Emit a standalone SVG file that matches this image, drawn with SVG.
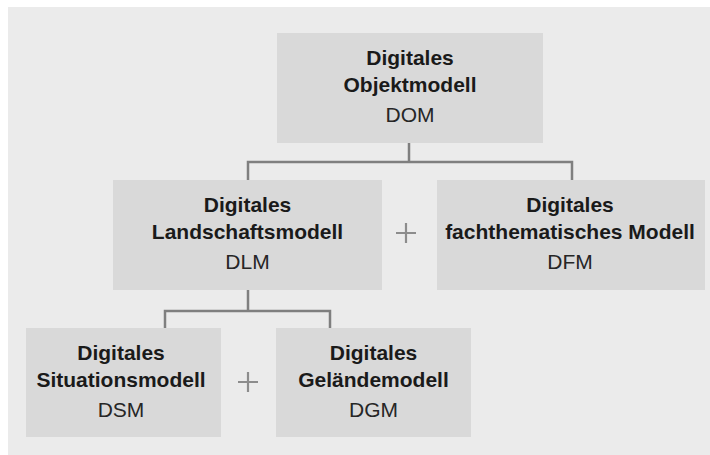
<svg xmlns="http://www.w3.org/2000/svg" width="710" height="455" viewBox="0 0 710 455">
  <style>
    .box { fill: #d9d9d9; }
    .title { font-family: "Liberation Sans", Arial, sans-serif; font-size: 21px; font-weight: bold; fill: #1a1a1a; text-anchor: middle; }
    .abbr { font-family: "Liberation Sans", Arial, sans-serif; font-size: 21px; fill: #262626; text-anchor: middle; }
    .link { fill: none; stroke: #7f7f7f; stroke-width: 2.5; }
    .plus { fill: none; stroke: #8c8c8c; stroke-width: 2.2; }
  </style>
  <rect x="0" y="0" width="710" height="455" fill="#ffffff"/>
  <rect x="8" y="7" width="702" height="448" fill="#ebebeb"/>

  <g id="connectors">
    <path class="link" d="M409,143 V162 M248,180 V162 H572 V180"/>
    <path class="link" d="M248,290 V311 M165,328 V311 H330 V328"/>
  </g>

  <g id="plus-signs">
    <path class="plus" d="M396,233 H416 M406,223 V243"/>
    <path class="plus" d="M238,382 H258 M248,372 V392"/>
  </g>

  <g id="dom">
    <rect class="box" x="277" y="33" width="266" height="110"/>
    <text class="title" x="410" y="64.5">Digitales</text>
    <text class="title" x="410" y="91.5">Objektmodell</text>
    <text class="abbr" x="410" y="121.5">DOM</text>
  </g>

  <g id="dlm">
    <rect class="box" x="113" y="180" width="269" height="110"/>
    <text class="title" x="247.5" y="211.5">Digitales</text>
    <text class="title" x="247.5" y="238.5">Landschaftsmodell</text>
    <text class="abbr" x="247.5" y="268.5">DLM</text>
  </g>

  <g id="dfm">
    <rect class="box" x="437" y="180" width="268" height="110"/>
    <text class="title" x="570" y="211.5">Digitales</text>
    <text class="title" x="570" y="238.5">fachthematisches Modell</text>
    <text class="abbr" x="570" y="268.5">DFM</text>
  </g>

  <g id="dsm">
    <rect class="box" x="26" y="328" width="195" height="109"/>
    <text class="title" x="121" y="360">Digitales</text>
    <text class="title" x="121" y="386.5">Situationsmodell</text>
    <text class="abbr" x="121" y="416.5">DSM</text>
  </g>

  <g id="dgm">
    <rect class="box" x="276" y="328" width="195" height="109"/>
    <text class="title" x="373.5" y="360">Digitales</text>
    <text class="title" x="373.5" y="386.5">Geländemodell</text>
    <text class="abbr" x="373.5" y="416.5">DGM</text>
  </g>
</svg>
